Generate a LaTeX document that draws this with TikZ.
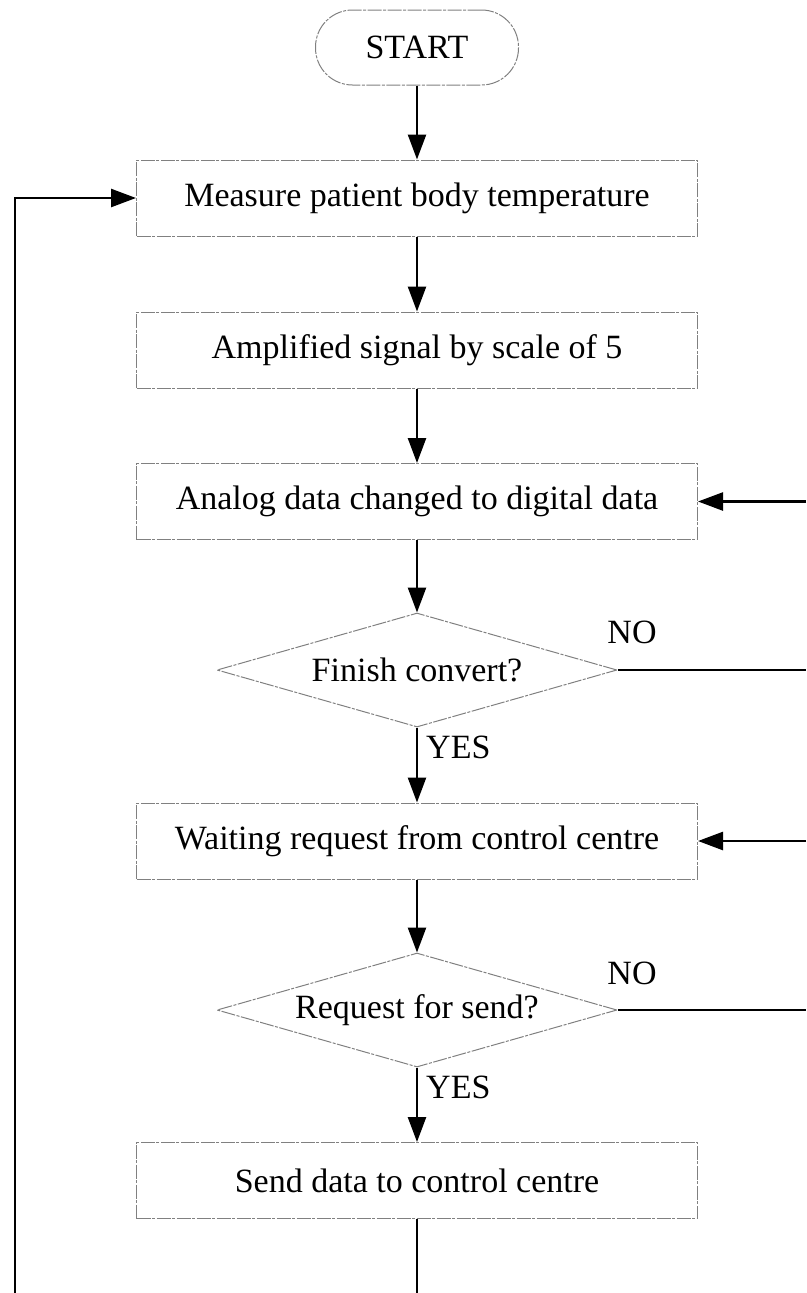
\documentclass[tikz,border=0pt]{standalone}
\usepackage{fontspec}
\setmainfont{Liberation Serif}
\usetikzlibrary{shapes.geometric,arrows.meta}
\begin{document}
\begin{tikzpicture}[x=1pt,y=-1pt,
  font=\fontsize{34}{40}\selectfont,
  outline/.style={draw=black!50, line width=1pt,
    dash pattern=on 14pt off 1.5pt on 3pt off 1.5pt},
  procbox/.style={outline, rectangle, minimum width=561pt,
    minimum height=76pt, inner sep=0pt},
  termbox/.style={outline, rectangle, rounded corners=37pt,
    minimum width=203pt, minimum height=75pt, inner sep=0pt},
  decision/.style={outline, diamond, aspect=3.5, minimum width=400pt,
    minimum height=114pt, inner sep=0pt},
  flow/.style={line width=2.5pt, -{Triangle[length=25pt,width=18pt]}},
  plain/.style={line width=2.5pt},
  tag/.style={inner sep=0pt}
]
\useasboundingbox (0,0) rectangle (806,1293);

% main column
\node[termbox]  (start)   at (417,47.5)  {START};
\node[procbox]  (measure) at (417,198)   {Measure patient body temperature};
\node[procbox]  (amp)     at (417,350)   {Amplified signal by scale of 5};
\node[procbox]  (analog)  at (417,501.5) {Analog data changed to digital data};
\node[decision] (finish)  at (417,670)   {Finish convert?};
\node[procbox]  (waiting) at (417,841)   {Waiting request from control centre};
\node[decision] (request) at (417,1010)  {Request for send?};
\node[procbox]  (send)    at (417,1180.5){Send data to control centre};

% branch labels
\node[tag] (no1) at (632,632) {NO};
\node[tag, anchor=west] (yes1) at (426,747) {YES};
\node[tag] (no2) at (632,973) {NO};
\node[tag, anchor=west] (yes2) at (426,1087) {YES};

% free ends of the loops at the picture edges
\coordinate (loopL)  at (15,1293);
\coordinate (tail)   at (417,1293);
\coordinate (noR1)   at (806,670);
\coordinate (backR1) at (806,501.5);
\coordinate (noR2)   at (806,1010);
\coordinate (backR2) at (806,841);

% forward flow
\draw[flow] (start)   -- (measure);
\draw[flow] (measure) -- (amp);
\draw[flow] (amp)     -- (analog);
\draw[flow] (analog)  -- (finish);
\draw[flow] (finish)  -- (waiting);
\draw[flow] (waiting) -- (request);
\draw[flow] (request) -- (send);
\draw[plain] (send.south) -- (tail);

% loops
\draw[flow] (loopL) |- (measure.west);
\draw[plain] (finish.east) -- (noR1);
\draw[flow] (backR1) -- (analog.east);
\draw[plain] (request.east) -- (noR2);
\draw[flow] (backR2) -- (waiting.east);
\end{tikzpicture}
\end{document}
